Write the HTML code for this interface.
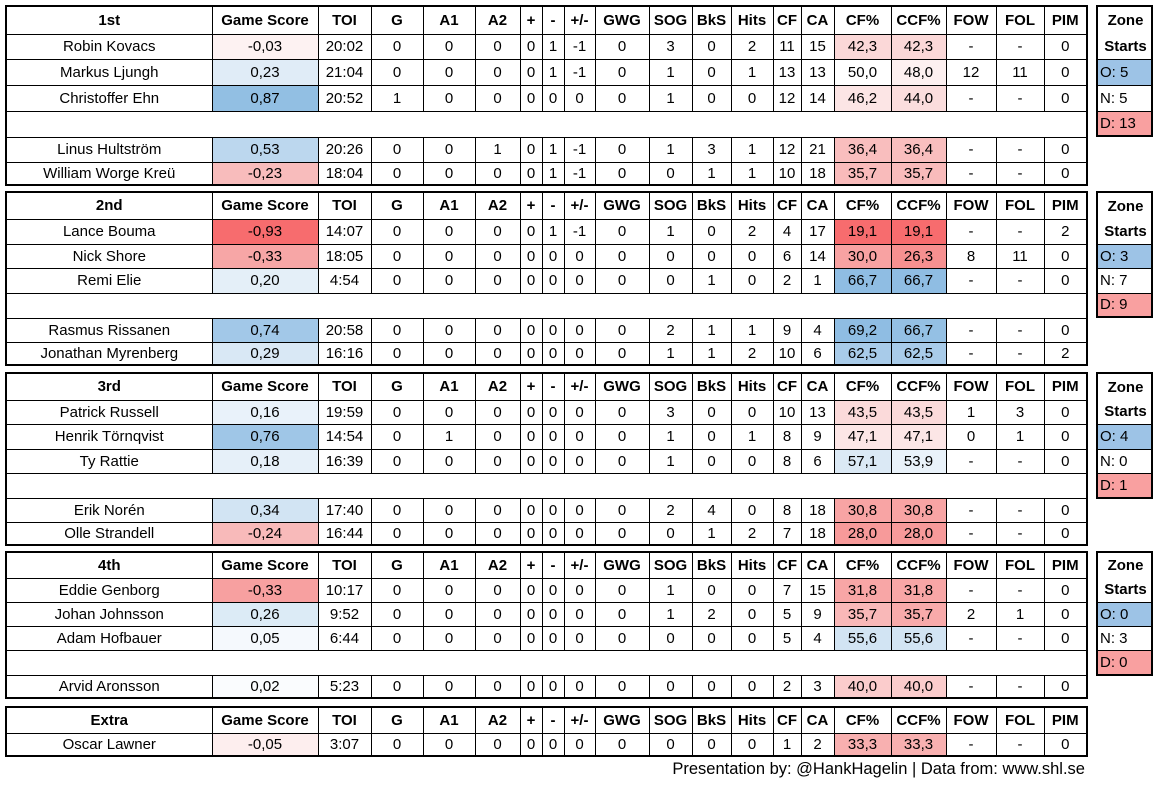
<!DOCTYPE html>
<html><head><meta charset="utf-8"><style>
body{margin:0;width:1160px;height:787px;background:#fff;font-family:"Liberation Sans",sans-serif;font-size:15px;color:#000;position:relative;overflow:hidden}
table{position:absolute;border-collapse:collapse;table-layout:fixed;border:2px solid #000}
td{border:1px solid #000;padding:0;text-align:center;white-space:nowrap;overflow:hidden;line-height:1}
tr.h td{font-weight:bold}
.z{left:1096px;width:57px}
.z td{text-align:left;padding-left:2px}
.z td.b{text-align:center;font-weight:bold;border:none}
.foot{position:absolute;left:560px;width:525px;top:760px;text-align:right;font-size:16.5px}
</style></head><body>

<table style="left:5px;top:5px;width:1083px">
<colgroup><col style="width:206px"><col style="width:106px"><col style="width:53px"><col style="width:52px"><col style="width:52px"><col style="width:45px"><col style="width:22px"><col style="width:22px"><col style="width:31px"><col style="width:54px"><col style="width:43px"><col style="width:39px"><col style="width:42px"><col style="width:28px"><col style="width:33px"><col style="width:57px"><col style="width:55px"><col style="width:50px"><col style="width:48px"><col style="width:43px"></colgroup>
<tr class="h" style="height:28px"><td>1st</td><td>Game Score</td><td>TOI</td><td>G</td><td>A1</td><td>A2</td><td>+</td><td>-</td><td>+/-</td><td>GWG</td><td>SOG</td><td>BkS</td><td>Hits</td><td>CF</td><td>CA</td><td>CF%</td><td>CCF%</td><td>FOW</td><td>FOL</td><td>PIM</td></tr>
<tr style="height:25px"><td>Robin Kovacs</td><td style="background:#fdf2f2">-0,03</td><td>20:02</td><td>0</td><td>0</td><td>0</td><td>0</td><td>1</td><td>-1</td><td>0</td><td>3</td><td>0</td><td>2</td><td>11</td><td>15</td><td style="background:#fbd8d8">42,3</td><td style="background:#fbd8d8">42,3</td><td>-</td><td>-</td><td>0</td></tr>
<tr style="height:26px"><td>Markus Ljungh</td><td style="background:#e0ecf7">0,23</td><td>21:04</td><td>0</td><td>0</td><td>0</td><td>0</td><td>1</td><td>-1</td><td>0</td><td>1</td><td>0</td><td>1</td><td>13</td><td>13</td><td>50,0</td><td style="background:#fdf0f0">48,0</td><td>12</td><td>11</td><td>0</td></tr>
<tr style="height:26px"><td>Christoffer Ehn</td><td style="background:#92bfe3">0,87</td><td>20:52</td><td>1</td><td>0</td><td>0</td><td>0</td><td>0</td><td>0</td><td>0</td><td>1</td><td>0</td><td>0</td><td>12</td><td>14</td><td style="background:#fce5e5">46,2</td><td style="background:#fbdddd">44,0</td><td>-</td><td>-</td><td>0</td></tr>
<tr style="height:26px"><td colspan="20"></td></tr>
<tr style="height:25px"><td>Linus Hultström</td><td style="background:#bcd7ee">0,53</td><td>20:26</td><td>0</td><td>0</td><td>1</td><td>0</td><td>1</td><td>-1</td><td>0</td><td>1</td><td>3</td><td>1</td><td>12</td><td>21</td><td style="background:#f9bebe">36,4</td><td style="background:#f9bebe">36,4</td><td>-</td><td>-</td><td>0</td></tr>
<tr style="height:23px"><td>William Worge Kreü</td><td style="background:#f8bcbc">-0,23</td><td>18:04</td><td>0</td><td>0</td><td>0</td><td>0</td><td>1</td><td>-1</td><td>0</td><td>0</td><td>1</td><td>1</td><td>10</td><td>18</td><td style="background:#f9bbbb">35,7</td><td style="background:#f9bbbb">35,7</td><td>-</td><td>-</td><td>0</td></tr>
</table>
<table class="z" style="top:5px">
<tr style="height:28px"><td class="b">Zone</td></tr>
<tr style="height:25px"><td class="b">Starts</td></tr>
<tr style="height:26px"><td style="background:#9dc3e6">O: 5</td></tr>
<tr style="height:26px"><td>N: 5</td></tr>
<tr style="height:25px"><td style="background:#f9a0a0">D: 13</td></tr>
</table>

<table style="left:5px;top:191px;width:1083px">
<colgroup><col style="width:206px"><col style="width:106px"><col style="width:53px"><col style="width:52px"><col style="width:52px"><col style="width:45px"><col style="width:22px"><col style="width:22px"><col style="width:31px"><col style="width:54px"><col style="width:43px"><col style="width:39px"><col style="width:42px"><col style="width:28px"><col style="width:33px"><col style="width:57px"><col style="width:55px"><col style="width:50px"><col style="width:48px"><col style="width:43px"></colgroup>
<tr class="h" style="height:27px"><td>2nd</td><td>Game Score</td><td>TOI</td><td>G</td><td>A1</td><td>A2</td><td>+</td><td>-</td><td>+/-</td><td>GWG</td><td>SOG</td><td>BkS</td><td>Hits</td><td>CF</td><td>CA</td><td>CF%</td><td>CCF%</td><td>FOW</td><td>FOL</td><td>PIM</td></tr>
<tr style="height:25px"><td>Lance Bouma</td><td style="background:#f76c6e">-0,93</td><td>14:07</td><td>0</td><td>0</td><td>0</td><td>0</td><td>1</td><td>-1</td><td>0</td><td>1</td><td>0</td><td>2</td><td>4</td><td>17</td><td style="background:#f76c6e">19,1</td><td style="background:#f76c6e">19,1</td><td>-</td><td>-</td><td>2</td></tr>
<tr style="height:24px"><td>Nick Shore</td><td style="background:#f7a6a6">-0,33</td><td>18:05</td><td>0</td><td>0</td><td>0</td><td>0</td><td>0</td><td>0</td><td>0</td><td>0</td><td>0</td><td>0</td><td>6</td><td>14</td><td style="background:#f8a2a2">30,0</td><td style="background:#f79090">26,3</td><td>8</td><td>11</td><td>0</td></tr>
<tr style="height:25px"><td>Remi Elie</td><td style="background:#e4eff8">0,20</td><td>4:54</td><td>0</td><td>0</td><td>0</td><td>0</td><td>0</td><td>0</td><td>0</td><td>0</td><td>1</td><td>0</td><td>2</td><td>1</td><td style="background:#8fbde3">66,7</td><td style="background:#8fbde3">66,7</td><td>-</td><td>-</td><td>0</td></tr>
<tr style="height:25px"><td colspan="20"></td></tr>
<tr style="height:24px"><td>Rasmus Rissanen</td><td style="background:#a2c8e8">0,74</td><td>20:58</td><td>0</td><td>0</td><td>0</td><td>0</td><td>0</td><td>0</td><td>0</td><td>2</td><td>1</td><td>1</td><td>9</td><td>4</td><td style="background:#8fbde3">69,2</td><td style="background:#94c0e4">66,7</td><td>-</td><td>-</td><td>0</td></tr>
<tr style="height:23px"><td>Jonathan Myrenberg</td><td style="background:#d9e8f5">0,29</td><td>16:16</td><td>0</td><td>0</td><td>0</td><td>0</td><td>0</td><td>0</td><td>0</td><td>1</td><td>1</td><td>2</td><td>10</td><td>6</td><td style="background:#a8cbe9">62,5</td><td style="background:#a8cbe9">62,5</td><td>-</td><td>-</td><td>2</td></tr>
</table>
<table class="z" style="top:191px">
<tr style="height:27px"><td class="b">Zone</td></tr>
<tr style="height:25px"><td class="b">Starts</td></tr>
<tr style="height:24px"><td style="background:#9dc3e6">O: 3</td></tr>
<tr style="height:25px"><td>N: 7</td></tr>
<tr style="height:24px"><td style="background:#f9a0a0">D: 9</td></tr>
</table>

<table style="left:5px;top:372px;width:1083px">
<colgroup><col style="width:206px"><col style="width:106px"><col style="width:53px"><col style="width:52px"><col style="width:52px"><col style="width:45px"><col style="width:22px"><col style="width:22px"><col style="width:31px"><col style="width:54px"><col style="width:43px"><col style="width:39px"><col style="width:42px"><col style="width:28px"><col style="width:33px"><col style="width:57px"><col style="width:55px"><col style="width:50px"><col style="width:48px"><col style="width:43px"></colgroup>
<tr class="h" style="height:27px"><td>3rd</td><td>Game Score</td><td>TOI</td><td>G</td><td>A1</td><td>A2</td><td>+</td><td>-</td><td>+/-</td><td>GWG</td><td>SOG</td><td>BkS</td><td>Hits</td><td>CF</td><td>CA</td><td>CF%</td><td>CCF%</td><td>FOW</td><td>FOL</td><td>PIM</td></tr>
<tr style="height:24px"><td>Patrick Russell</td><td style="background:#e9f2fa">0,16</td><td>19:59</td><td>0</td><td>0</td><td>0</td><td>0</td><td>0</td><td>0</td><td>0</td><td>3</td><td>0</td><td>0</td><td>10</td><td>13</td><td style="background:#fbdada">43,5</td><td style="background:#fbdada">43,5</td><td>1</td><td>3</td><td>0</td></tr>
<tr style="height:25px"><td>Henrik Törnqvist</td><td style="background:#9fc6e7">0,76</td><td>14:54</td><td>0</td><td>1</td><td>0</td><td>0</td><td>0</td><td>0</td><td>0</td><td>1</td><td>0</td><td>1</td><td>8</td><td>9</td><td style="background:#fce6e6">47,1</td><td style="background:#fce6e6">47,1</td><td>0</td><td>1</td><td>0</td></tr>
<tr style="height:24px"><td>Ty Rattie</td><td style="background:#e6f0f9">0,18</td><td>16:39</td><td>0</td><td>0</td><td>0</td><td>0</td><td>0</td><td>0</td><td>0</td><td>1</td><td>0</td><td>0</td><td>8</td><td>6</td><td style="background:#dbe9f5">57,1</td><td style="background:#e9f2fa">53,9</td><td>-</td><td>-</td><td>0</td></tr>
<tr style="height:25px"><td colspan="20"></td></tr>
<tr style="height:24px"><td>Erik Norén</td><td style="background:#d2e4f3">0,34</td><td>17:40</td><td>0</td><td>0</td><td>0</td><td>0</td><td>0</td><td>0</td><td>0</td><td>2</td><td>4</td><td>0</td><td>8</td><td>18</td><td style="background:#f8a4a4">30,8</td><td style="background:#f8a4a4">30,8</td><td>-</td><td>-</td><td>0</td></tr>
<tr style="height:23px"><td>Olle Strandell</td><td style="background:#f8baba">-0,24</td><td>16:44</td><td>0</td><td>0</td><td>0</td><td>0</td><td>0</td><td>0</td><td>0</td><td>0</td><td>1</td><td>2</td><td>7</td><td>18</td><td style="background:#f79a9a">28,0</td><td style="background:#f79a9a">28,0</td><td>-</td><td>-</td><td>0</td></tr>
</table>
<table class="z" style="top:372px">
<tr style="height:27px"><td class="b">Zone</td></tr>
<tr style="height:24px"><td class="b">Starts</td></tr>
<tr style="height:25px"><td style="background:#9dc3e6">O: 4</td></tr>
<tr style="height:24px"><td>N: 0</td></tr>
<tr style="height:25px"><td style="background:#f9a0a0">D: 1</td></tr>
</table>

<table style="left:5px;top:551px;width:1083px">
<colgroup><col style="width:206px"><col style="width:106px"><col style="width:53px"><col style="width:52px"><col style="width:52px"><col style="width:45px"><col style="width:22px"><col style="width:22px"><col style="width:31px"><col style="width:54px"><col style="width:43px"><col style="width:39px"><col style="width:42px"><col style="width:28px"><col style="width:33px"><col style="width:57px"><col style="width:55px"><col style="width:50px"><col style="width:48px"><col style="width:43px"></colgroup>
<tr class="h" style="height:26px"><td>4th</td><td>Game Score</td><td>TOI</td><td>G</td><td>A1</td><td>A2</td><td>+</td><td>-</td><td>+/-</td><td>GWG</td><td>SOG</td><td>BkS</td><td>Hits</td><td>CF</td><td>CA</td><td>CF%</td><td>CCF%</td><td>FOW</td><td>FOL</td><td>PIM</td></tr>
<tr style="height:24px"><td>Eddie Genborg</td><td style="background:#f7a0a0">-0,33</td><td>10:17</td><td>0</td><td>0</td><td>0</td><td>0</td><td>0</td><td>0</td><td>0</td><td>1</td><td>0</td><td>0</td><td>7</td><td>15</td><td style="background:#f8a6a6">31,8</td><td style="background:#f8a6a6">31,8</td><td>-</td><td>-</td><td>0</td></tr>
<tr style="height:24px"><td>Johan Johnsson</td><td style="background:#dcebf6">0,26</td><td>9:52</td><td>0</td><td>0</td><td>0</td><td>0</td><td>0</td><td>0</td><td>0</td><td>1</td><td>2</td><td>0</td><td>5</td><td>9</td><td style="background:#f9b8b8">35,7</td><td style="background:#f8aaaa">35,7</td><td>2</td><td>1</td><td>0</td></tr>
<tr style="height:24px"><td>Adam Hofbauer</td><td style="background:#f5f9fd">0,05</td><td>6:44</td><td>0</td><td>0</td><td>0</td><td>0</td><td>0</td><td>0</td><td>0</td><td>0</td><td>0</td><td>0</td><td>5</td><td>4</td><td style="background:#d2e4f3">55,6</td><td style="background:#d2e4f3">55,6</td><td>-</td><td>-</td><td>0</td></tr>
<tr style="height:25px"><td colspan="20"></td></tr>
<tr style="height:23px"><td>Arvid Aronsson</td><td style="background:#fafcfe">0,02</td><td>5:23</td><td>0</td><td>0</td><td>0</td><td>0</td><td>0</td><td>0</td><td>0</td><td>0</td><td>0</td><td>0</td><td>2</td><td>3</td><td style="background:#fbcccc">40,0</td><td style="background:#fbcccc">40,0</td><td>-</td><td>-</td><td>0</td></tr>
</table>
<table class="z" style="top:551px">
<tr style="height:26px"><td class="b">Zone</td></tr>
<tr style="height:24px"><td class="b">Starts</td></tr>
<tr style="height:24px"><td style="background:#9dc3e6">O: 0</td></tr>
<tr style="height:24px"><td>N: 3</td></tr>
<tr style="height:25px"><td style="background:#f9a0a0">D: 0</td></tr>
</table>

<table style="left:5px;top:706px;width:1083px">
<colgroup><col style="width:206px"><col style="width:106px"><col style="width:53px"><col style="width:52px"><col style="width:52px"><col style="width:45px"><col style="width:22px"><col style="width:22px"><col style="width:31px"><col style="width:54px"><col style="width:43px"><col style="width:39px"><col style="width:42px"><col style="width:28px"><col style="width:33px"><col style="width:57px"><col style="width:55px"><col style="width:50px"><col style="width:48px"><col style="width:43px"></colgroup>
<tr class="h" style="height:26px"><td>Extra</td><td>Game Score</td><td>TOI</td><td>G</td><td>A1</td><td>A2</td><td>+</td><td>-</td><td>+/-</td><td>GWG</td><td>SOG</td><td>BkS</td><td>Hits</td><td>CF</td><td>CA</td><td>CF%</td><td>CCF%</td><td>FOW</td><td>FOL</td><td>PIM</td></tr>
<tr style="height:23px"><td>Oscar Lawner</td><td style="background:#fdeeee">-0,05</td><td>3:07</td><td>0</td><td>0</td><td>0</td><td>0</td><td>0</td><td>0</td><td>0</td><td>0</td><td>0</td><td>0</td><td>1</td><td>2</td><td style="background:#f8b0b0">33,3</td><td style="background:#f8b0b0">33,3</td><td>-</td><td>-</td><td>0</td></tr>
</table>

<div class="foot">Presentation by: @HankHagelin | Data from: www.shl.se</div>
</body></html>
